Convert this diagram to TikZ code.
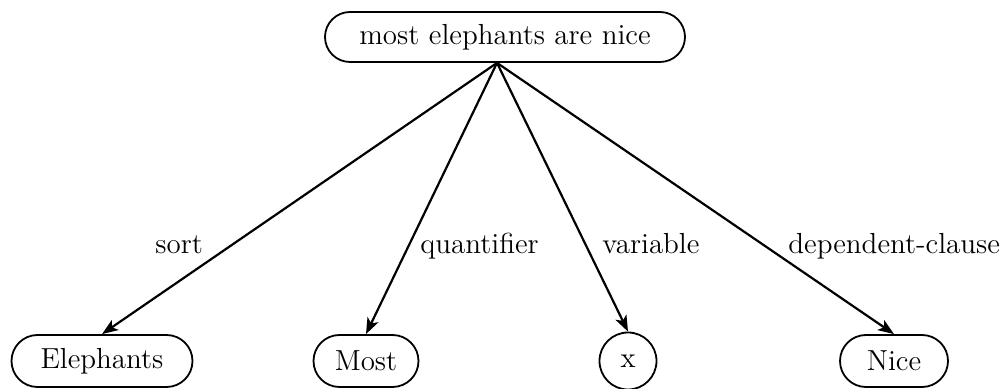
\documentclass[tikz,border=0pt]{standalone}
\usetikzlibrary{shapes.misc,arrows.meta}
\begin{document}
\begin{tikzpicture}[x=0.5pt,y=-0.5pt,
  every node/.style={font=\fontsize{14.5}{17}\selectfont},
  box/.style={draw, line width=0.9pt, rounded rectangle, minimum height=26pt, inner sep=0pt},
  circ/.style={draw, line width=0.9pt, circle, minimum size=28.5pt, inner sep=0pt},
  arr/.style={line width=1.1pt, -{Stealth[length=8pt,width=6pt,inset=2pt]}},
  lbl/.style={anchor=base west, inner sep=0pt}]
\useasboundingbox (0,0) rectangle (1007,389);
\node[box, minimum width=180pt, minimum height=25pt] (top) at (505,37) {most elephants are nice};
\node[box, minimum width=90.5pt] (eleph) at (102,361) {Elephants};
\node[box, minimum width=52.5pt] (most) at (366,361) {Most};
\node[circ] (x) at (628,361) {x};
\node[box, minimum width=54pt] (nice) at (894,361) {Nice};
\draw[arr] ([xshift=-4pt]top.south) -- (eleph.north);
\draw[arr] ([xshift=-4pt]top.south) -- (most.north);
\draw[arr] ([xshift=-4pt]top.south) -- (x.north);
\draw[arr] ([xshift=-4pt]top.south) -- (nice.north);
\node[lbl] (lsort) at (155,254) {sort};
\node[lbl] (lquant) at (420,254) {quantifier};
\node[lbl] (lvar) at (602,254) {variable};
\node[lbl] (ldep) at (788,254) {dependent-clause};
\end{tikzpicture}
\end{document}
